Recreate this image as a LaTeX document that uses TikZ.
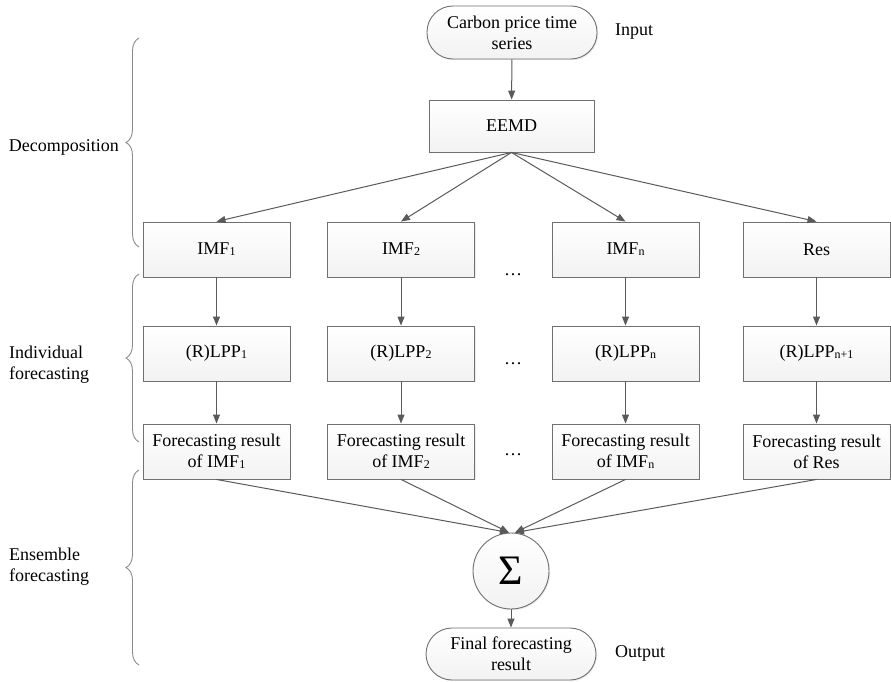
\documentclass[tikz,border=0pt]{standalone}
\usepackage{fontspec}
\setmainfont{Liberation Serif}
\usetikzlibrary{arrows.meta,shadows,decorations.pathreplacing,calc}
\definecolor{edgec}{HTML}{707070}
\definecolor{arrc}{HTML}{5A5A5A}
\definecolor{bracec}{HTML}{8A8A8A}
\newcommand\sbs[1]{\raisebox{-0.8pt}{\fontsize{12}{12}\selectfont #1}}
\begin{document}
\begin{tikzpicture}[x=1pt,y=-1pt,font=\fontsize{18}{21}\selectfont,
  shade/.style={top color=white,bottom color=black!5,
    drop shadow={shadow xshift=1.2pt,shadow yshift=-1.2pt,opacity=0.15}},
  box/.style={shade,draw=edgec,line width=0.9pt,minimum width=147pt,minimum height=55pt,inner sep=0pt,align=center},
  term/.style={shade,draw=edgec,line width=0.9pt,rounded corners=26pt,minimum width=170pt,minimum height=53pt,inner sep=0pt,align=center},
  sumnode/.style={shade,draw=edgec,line width=0.9pt,circle,minimum size=76pt,inner sep=0pt},
  arr/.style={draw=arrc,line width=1pt,-{Triangle[length=9pt,width=7pt]}},
  brc/.style={draw=bracec,line width=0.9pt,decorate,decoration={brace,amplitude=13pt}},
  lbl/.style={inner sep=0pt,align=left}]
\useasboundingbox (0,0) rectangle (891,682);

% top
\node[term] (inp) at (512,32.5) {Carbon price time\\series};
\node[lbl,anchor=west] (inlbl) at (615,32) {Input};
\node[box,minimum width=165pt,minimum height=52pt] (eemd) at (511.5,126) {EEMD};

% IMF row
\node[box] (i1) at (216.5,249.5) {IMF\sbs{1}};
\node[box] (i2) at (401,249.5) {IMF\sbs{2}};
\node[box] (i3) at (625.5,249.5) {IMF\sbs{n}};
\node[box] (i4) at (816.5,249.5) {Res};
% LPP row
\node[box] (l1) at (216.5,353.5) {(R)LPP\sbs{1}};
\node[box] (l2) at (401,353.5) {(R)LPP\sbs{2}};
\node[box] (l3) at (625.5,353.5) {(R)LPP\sbs{n}};
\node[box] (l4) at (816.5,353.5) {(R)LPP\sbs{n+1}};
% forecast row
\node[box] (f1) at (216.5,451.5) {Forecasting result\\of IMF\sbs{1}};
\node[box] (f2) at (401,451.5) {Forecasting result\\of IMF\sbs{2}};
\node[box] (f3) at (625.5,451.5) {Forecasting result\\of IMF\sbs{n}};
\node[box] (f4) at (816.5,451.5) {Forecasting result\\of Res};

% dots
\node[inner sep=0pt] (d1) at (513,275) {…};
\node[inner sep=0pt] (d2) at (513,364) {…};
\node[inner sep=0pt] (d3) at (513,455) {…};

% sum and output
\node[sumnode] (sum) at (511,571) {\fontsize{42}{42}\selectfont Σ};
\node[term,minimum height=52pt] (out) at (511,654) {Final forecasting\\result};
\node[lbl,anchor=west] (outlbl) at (615,653) {Output};

% connectors
\draw[arr] (inp) -- (eemd);
\foreach \n in {i1,i2,i3,i4}{\draw[arr] (eemd.south) -- (\n.north);}
\foreach \a/\b in {i1/l1,i2/l2,i3/l3,i4/l4,l1/f1,l2/f2,l3/f3,l4/f4}{\draw[arr] (\a) -- (\b);}
\coordinate (sl) at ($(sum.north)+(-2,0)$);
\coordinate (sr) at ($(sum.north)+(4,0)$);
\draw[arr] (f1.south) -- (sl);
\draw[arr] (f2.south) -- (sl);
\draw[arr] (f3.south) -- (sr);
\draw[arr] (f4.south) -- (sr);
\draw[arr] (sum) -- (out);

% braces
\coordinate (b1a) at (139,247); \coordinate (b1b) at (139,38);
\coordinate (b2a) at (139,442); \coordinate (b2b) at (139,274);
\coordinate (b3a) at (139,665); \coordinate (b3b) at (139,470);
\draw[brc] (b1a) -- (b1b);
\draw[brc] (b2a) -- (b2b);
\draw[brc] (b3a) -- (b3b);
\node[lbl,anchor=east] (dec) at (119,147) {Decomposition};
\node[lbl,anchor=west] (ind) at (9,365) {Individual\\forecasting};
\node[lbl,anchor=west] (ens) at (9,567) {Ensemble\\forecasting};
\end{tikzpicture}
\end{document}
